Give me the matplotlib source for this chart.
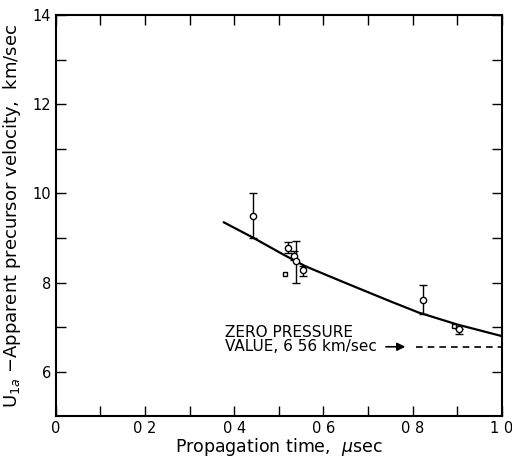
import numpy as np
import matplotlib.pyplot as plt

# measured points (propagation time, usec ; velocity, km/sec)
pt_x = [0.442, 0.520, 0.535, 0.538, 0.555, 0.823, 0.903]
pt_y = [9.50, 8.78, 8.60, 8.48, 8.28, 7.61, 6.96]
err_lo = [0.50, 0.12, 0.10, 0.50, 0.13, 0.31, 0.11]
err_hi = [0.50, 0.12, 0.10, 0.45, 0.10, 0.34, 0.0]

# small square symbols
sq_x = [0.514, 0.893]
sq_y = [8.20, 7.03]

# smooth curve
curve_x = [0.377, 0.44, 0.51, 0.561, 0.65, 0.75, 0.813, 0.90, 1.0]
curve_y = [9.35, 9.02, 8.63, 8.36, 7.99, 7.58, 7.33, 7.06, 6.80]

zero_p = 6.56

xticks = [0, 0.2, 0.4, 0.6, 0.8, 1.0]
xtick_labels = ['0', '0 2', '0 4', '0 6', '0 8', '1 0']
yticks = [6, 8, 10, 12, 14]

plt.rcParams['font.family'] = 'DejaVu Sans'
fig = plt.figure(figsize=(5.12, 4.57), dpi=100)
ax = fig.add_axes([0.109, 0.089, 0.871, 0.878])

ax.plot(curve_x, curve_y, color='black', lw=1.6, zorder=2)
ax.errorbar(pt_x, pt_y, yerr=[err_lo, err_hi], fmt='o', ms=4.5, mfc='white',
            mec='black', mew=1.0, ecolor='black', elinewidth=1.0, capsize=3,
            capthick=1.0, zorder=3)
ax.plot(sq_x, sq_y, 's', ms=3, mfc='white', mec='black', mew=1.0, zorder=3)

# zero pressure line
ax.plot([0.808, 1.0], [zero_p, zero_p], color='black', lw=1.2, ls=(0, (4, 3)))
ax.annotate('', xy=(0.79, zero_p), xytext=(0.734, zero_p),
            arrowprops=dict(arrowstyle='-|>', color='black', lw=1.2,
                            mutation_scale=12))
ax.text(0.38, 6.89, 'ZERO PRESSURE', fontsize=11, va='center', ha='left')
ax.text(0.38, 6.56, 'VALUE, 6 56 km/sec', fontsize=11, va='center', ha='left')

ax.set_xlim(0, 1.0)
ax.set_ylim(5, 14)
ax.set_xticks(xticks)
ax.set_xticklabels(xtick_labels)
ax.set_xticks(np.arange(0.1, 1.0, 0.2), minor=True)
ax.set_yticks(yticks)
ax.set_yticks([7, 9, 11, 13], minor=True)
ax.tick_params(which='both', direction='in', top=True, right=True,
               labelsize=10.5, width=1.0)
ax.tick_params(which='major', length=7)
ax.tick_params(which='minor', length=7)
for s in ax.spines.values():
    s.set_linewidth(1.5)

ax.set_xlabel(r'Propagation time,  $\mu$sec', fontsize=12.5, labelpad=0)
ax.set_ylabel(r'U$_{1a}$ $-$Apparent precursor velocity,  km/sec', fontsize=13,
              labelpad=7)

fig.savefig('out.png', dpi=100)
